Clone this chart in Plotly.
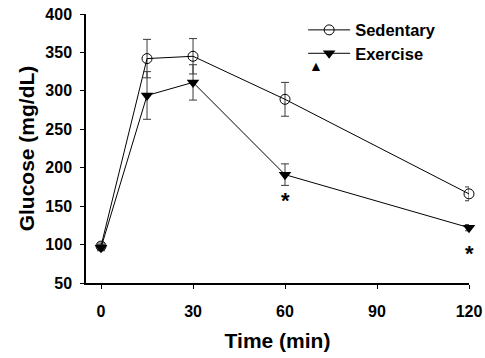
import plotly.graph_objects as go

# Glucose tolerance time course (mean ± SEM)
time_min = [0, 15, 30, 60, 120]
sedentary = [98, 342, 345, 289, 166]
sedentary_err = [4, 25, 23, 22, 9]
exercise = [96, 294, 311, 191, 122]
exercise_err = [4, 31, 23, 14, 4]
significant = [False, False, False, True, True]

x_ticks = [0, 30, 60, 90, 120]
y_ticks = [50, 100, 150, 200, 250, 300, 350, 400]

FONT = "Liberation Sans, Arial, sans-serif"
ERR_COLOR = "#3a3a3a"

fig = go.Figure()

fig.add_trace(go.Scatter(
    x=time_min, y=sedentary, name="<b>Sedentary</b>", mode="lines+markers",
    line=dict(color="black", width=1),
    marker=dict(symbol="circle-open", size=10, color="black", line=dict(width=1)),
    error_y=dict(type="data", array=sedentary_err, color=ERR_COLOR, thickness=1, width=4),
    cliponaxis=False, legend="legend",
))
fig.add_trace(go.Scatter(
    x=time_min, y=exercise, name="<b>Exercise</b>", mode="lines+markers",
    line=dict(color="black", width=1),
    marker=dict(symbol="triangle-down", size=11, color="black"),
    error_y=dict(type="data", array=exercise_err, color=ERR_COLOR, thickness=1, width=4),
    cliponaxis=False, legend="legend2",
))

# significance markers below the exercise points
for t, v, s in zip(time_min, exercise, significant):
    if s:
        fig.add_annotation(x=t, y=v, text="<b>*</b>", showarrow=False,
                           yanchor="top", yshift=-11,
                           font=dict(family=FONT, size=22, color="black"))

# small filled triangle under the legend
fig.add_annotation(xref="paper", yref="paper", x=0.601, y=0.845, text="▲",
                   showarrow=False, font=dict(family=FONT, size=14, color="black"))

legend_style = dict(xanchor="left", yanchor="top", bgcolor="rgba(0,0,0,0)",
                    itemwidth=42,
                    font=dict(family=FONT, size=16.5, color="black"))

fig.update_layout(
    width=485, height=358,
    margin=dict(l=85.5, r=16.3, t=14, b=75),
    paper_bgcolor="white", plot_bgcolor="white",
    font=dict(family=FONT, color="black"),
    showlegend=True,
    legend=dict(x=0.567, y=1.005, **legend_style),
    legend2=dict(x=0.567, y=0.918, **legend_style),
    xaxis=dict(
        range=[-4.9, 120], tickmode="array", tickvals=x_ticks,
        ticktext=[f"<b>{v}</b>" for v in x_ticks],
        showline=True, linecolor="black", linewidth=1.5, mirror=False,
        ticks="outside", ticklen=4, tickwidth=1, tickcolor="black",
        showgrid=False, zeroline=False, automargin=False,
        tickfont=dict(family=FONT, size=16),
        ticklabelstandoff=9,
        title=dict(text="<b>Time (min)</b>", font=dict(family=FONT, size=21), standoff=14),
    ),
    yaxis=dict(
        range=[50, 400], tickmode="array", tickvals=y_ticks,
        ticktext=[f"<b>{v}</b>" for v in y_ticks],
        showline=True, linecolor="black", linewidth=1.5, mirror=False,
        ticks="outside", ticklen=4, tickwidth=1, tickcolor="black",
        showgrid=False, zeroline=False, automargin=False,
        tickfont=dict(family=FONT, size=16),
        ticklabelstandoff=5,
        title=dict(text="<b>Glucose (mg/dL)</b>", font=dict(family=FONT, size=21), standoff=5),
    ),
)

fig.write_html("out.html")
